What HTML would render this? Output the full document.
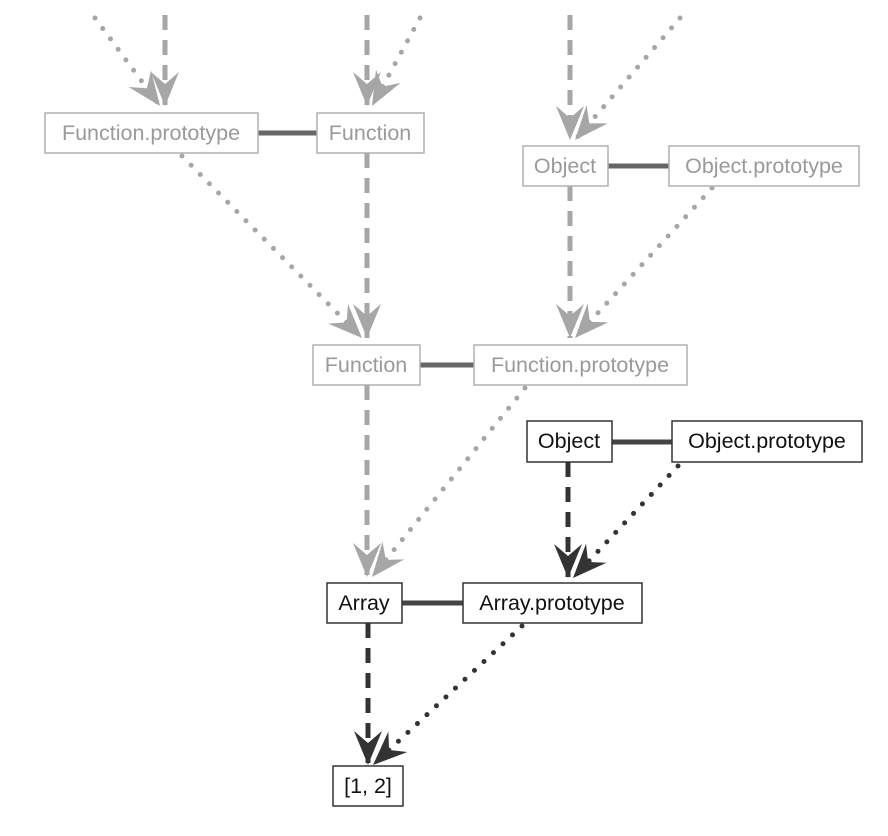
<!DOCTYPE html>
<html><head><meta charset="utf-8"><style>
html,body{margin:0;padding:0;background:#fff}
svg{display:block}
text{font-family:"Liberation Sans",sans-serif;font-size:21.5px;text-anchor:middle;dominant-baseline:central}
</style></head><body>
<svg width="888" height="836" viewBox="0 0 888 836">
<defs>
<marker id="ag" markerUnits="userSpaceOnUse" markerWidth="44" markerHeight="44" viewBox="-38 -22 44 44" refX="0" refY="0" orient="auto">
<path d="M0,0 L-34,-14 L-22,0 L-34,14 Z" fill="#a6a6a6"/></marker>
<marker id="ad" markerUnits="userSpaceOnUse" markerWidth="44" markerHeight="44" viewBox="-38 -22 44 44" refX="0" refY="0" orient="auto">
<path d="M0,0 L-34,-14 L-22,0 L-34,14 Z" fill="#333"/></marker>
</defs>
<g fill="none" stroke-width="5">
<g stroke="#a6a6a6" stroke-dasharray="15 10" marker-end="url(#ag)">
<line x1="165" y1="15" x2="165" y2="106"/>
<line x1="367" y1="15" x2="367" y2="106"/>
<line x1="570" y1="15" x2="570" y2="140"/>
<line x1="367" y1="153" x2="367" y2="338"/>
<line x1="570" y1="186" x2="570" y2="338"/>
<line x1="367" y1="385" x2="367" y2="577"/>
</g>
<g stroke="#a6a6a6" stroke-width="5" stroke-linecap="round" stroke-dasharray="0 13" marker-end="url(#ag)">
<line x1="95" y1="18" x2="160" y2="106"/>
<line x1="420" y1="18" x2="372" y2="106"/>
<line x1="680" y1="18" x2="575" y2="140"/>
<line x1="182" y1="156" x2="362" y2="338"/>
<line x1="712" y1="188" x2="575" y2="338"/>
<line x1="525" y1="388" x2="372" y2="577"/>
</g>
<g stroke="#333" stroke-dasharray="15 10" marker-end="url(#ad)">
<line x1="568" y1="462" x2="568" y2="578"/>
<line x1="368" y1="623" x2="368" y2="765"/>
</g>
<g stroke="#333" stroke-width="5" stroke-linecap="round" stroke-dasharray="0 13" marker-end="url(#ad)">
<line x1="678" y1="466" x2="573" y2="578"/>
<line x1="522" y1="626" x2="373" y2="765"/>
</g>
<g stroke="#666">
<line x1="258" y1="133" x2="317" y2="133"/>
<line x1="608" y1="166" x2="669" y2="166"/>
<line x1="420" y1="365" x2="474" y2="365"/>
</g>
<g stroke="#444">
<line x1="612" y1="442" x2="672" y2="442"/>
<line x1="402" y1="603" x2="463" y2="603"/>
</g>
</g>
<g fill="#fff" stroke="#b0b0b0" stroke-width="1.5">
<rect x="45" y="113" width="213" height="40"/>
<rect x="317" y="113" width="107" height="40"/>
<rect x="523" y="146" width="85" height="40"/>
<rect x="669" y="146" width="190" height="40"/>
<rect x="313" y="345" width="107" height="40"/>
<rect x="474" y="345" width="213" height="40"/>
</g>
<g fill="#fff" stroke="#333" stroke-width="1.5">
<rect x="527" y="421" width="85" height="41"/>
<rect x="672" y="421" width="190" height="41"/>
<rect x="327" y="583" width="75" height="40"/>
<rect x="463" y="583" width="179" height="40"/>
<rect x="333" y="766" width="70" height="40"/>
</g>
<g fill="#9a9a9a">
<text x="151" y="133">Function.prototype</text>
<text x="370" y="133">Function</text>
<text x="565" y="166">Object</text>
<text x="764" y="166">Object.prototype</text>
<text x="366" y="365">Function</text>
<text x="580" y="365">Function.prototype</text>
</g>
<g fill="#111">
<text x="569" y="441">Object</text>
<text x="767" y="441">Object.prototype</text>
<text x="364" y="603">Array</text>
<text x="552" y="603">Array.prototype</text>
<text x="368" y="786">[1, 2]</text>
</g>
</svg>
</body></html>
